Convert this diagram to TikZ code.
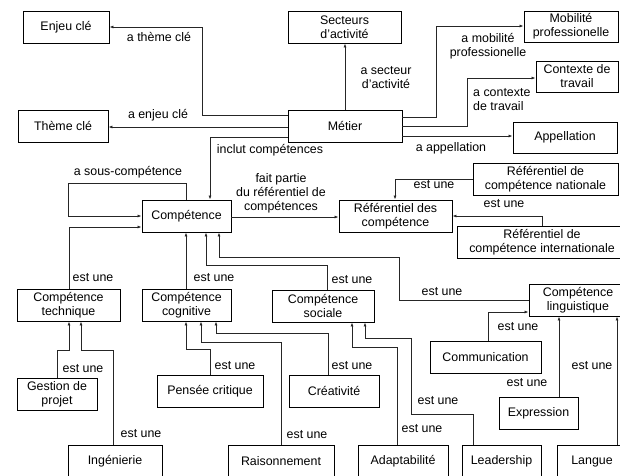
\documentclass[tikz,border=0pt]{standalone}
\usepackage{fontspec}
\setmainfont{Liberation Sans}
\usetikzlibrary{arrows.meta}
% box with corners (x1,y1) and (x2,y2), y measured downwards
\newcommand\mkbox[6]{\node[box,minimum width={#4pt-#2pt},minimum height={#5pt-#3pt}] (#1) at ({(#2+#4)/2},{(#3+#5)/2}) {#6};}
\begin{document}
\begin{tikzpicture}[x=1pt,y=-1pt,
  box/.style={draw=black,line width=0.9pt,inner sep=0pt,align=center,font=\fontsize{12.4}{14}\selectfont},
  lbl/.style={inner sep=0pt,align=center,font=\fontsize{12.4}{14}\selectfont},
  arr/.style={draw=black!85,line width=0.8pt,-{Latex[length=4pt,width=3pt]}}]
\useasboundingbox (0,0) rectangle (620,475);
\fill[white] (0,0) rectangle (620,475);
\clip (0,0) rectangle (620,475);

% concepts
\mkbox{enjeu}{23}{11}{109}{43}{Enjeu clé}
\mkbox{secteurs}{288}{11}{401}{43}{Secteurs\\d’activité}
\mkbox{mobilite}{524}{11}{618}{42}{Mobilité\\professionelle}
\mkbox{contexte}{536}{61}{618}{92}{Contexte de\\travail}
\mkbox{theme}{18}{110}{108}{142}{Thème clé}
\mkbox{metier}{288}{110}{402}{142}{Métier}
\mkbox{appellation}{513}{122}{617}{153}{Appellation}
\mkbox{nationale}{473}{163}{618}{195}{Référentiel de\\compétence nationale}
\mkbox{competence}{142}{200}{231}{232}{Compétence}
\mkbox{referentiel}{339}{200}{452}{232}{Référentiel des\\compétence}
\mkbox{internationale}{457}{226}{627}{258}{Référentiel de\\compétence internationale}
\mkbox{technique}{17}{289}{120}{321}{Compétence\\technique}
\mkbox{cognitive}{142}{289}{231}{321}{Compétence\\cognitive}
\mkbox{sociale}{272}{290}{374}{322}{Compétence\\sociale}
\mkbox{linguistique}{529}{284}{627}{316}{Compétence\\linguistique}
\mkbox{communication}{430}{341}{541}{373}{Communication}
\mkbox{gestion}{17}{378}{97}{410}{Gestion de\\projet}
\mkbox{pensee}{157}{375}{263}{407}{Pensée critique}
\mkbox{creativite}{289}{375}{379}{407}{Créativité}
\mkbox{expression}{499}{397}{578}{429}{Expression}
\mkbox{ingenierie}{68}{445}{162}{478}{Ingénierie}
\mkbox{raisonnement}{228}{445}{334}{478}{Raisonnement}
\mkbox{adaptabilite}{358}{445}{448}{478}{Adaptabilité}
\mkbox{leadership}{462}{445}{541}{478}{Leadership}
\mkbox{langue}{557}{445}{627}{478}{Langue}

% relations of Métier
\draw[arr] (metier.west |- 0,115) -| (202,27) -- (enjeu.east |- 0,27);
\draw[arr] (metier.west |- 0,127) -- (theme.east |- 0,127);
\draw[arr] (metier.north -| 345,0) -- (secteurs.south -| 345,0);
\draw[arr] (metier.east |- 0,117) -| (436,26) -- (mobilite.west |- 0,26);
\draw[arr] (metier.east |- 0,126) -| (467,78) -- (contexte.west |- 0,78);
\draw[arr] (metier.east |- 0,136) -- (appellation.west |- 0,136);
\draw[arr] (metier.west |- 0,137) -| (competence.north -| 210,0);

% relations of Compétence
\draw[arr] (competence.east |- 0,217) -- (referentiel.west |- 0,217);
\draw[arr] (competence.north -| 186,0) |- (68,183) |- (competence.west |- 0,216);
\draw[arr] (technique.north -| 69,0) |- (competence.west |- 0,227);
\draw[arr] (cognitive.north -| 186,0) -- (competence.south -| 186,0);
\draw[arr] (sociale.north -| 327,0) |- (206,265) -- (competence.south -| 206,0);
\draw[arr] (linguistique.west |- 0,300) -| (399,257) -| (competence.south -| 219,0);

% kinds of référentiel
\draw[arr] (nationale.west |- 0,179) -| (referentiel.north -| 395,0);
\draw[arr] (internationale.north -| 542,0) |- (referentiel.east |- 0,216);

% specialisations
\draw[arr] (gestion.north -| 57,0) |- (69,350) -- (technique.south -| 69,0);
\draw[arr] (ingenierie.north -| 113,0) |- (81,350) -- (technique.south -| 81,0);
\draw[arr] (pensee.north -| 210,0) |- (186,349) -- (cognitive.south -| 186,0);
\draw[arr] (raisonnement.north -| 281,0) |- (201,342) -- (cognitive.south -| 201,0);
\draw[arr] (creativite.north -| 328,0) |- (216,333) -- (cognitive.south -| 216,0);
\draw[arr] (adaptabilite.north -| 397,0) |- (352,347) -- (sociale.south -| 352,0);
\draw[arr] (leadership.north -| 473,0) |- (411,414) |- (365,338) -- (sociale.south -| 365,0);
\draw[arr] (communication.north -| 488,0) |- (linguistique.west |- 0,312);
\draw[arr] (expression.north -| 559,0) -- (linguistique.south -| 559,0);
\draw[arr] (langue.north -| 617,0) -- (linguistique.south -| 617,0);

% relation labels
\node[lbl] (l-theme) at (159,37) {a thème clé};
\node[lbl] (l-enjeu) at (158,115) {a enjeu clé};
\node[lbl] (l-secteur) at (386,78) {a secteur\\d’activité};
\node[lbl] (l-mobilite) at (488,46) {a mobilité\\professionelle};
\node[lbl,align=left,anchor=west] (l-contexte) at (473,100) {a contexte\\de travail};
\node[lbl] (l-appellation) at (451,148) {a appellation};
\node[lbl] (l-inclut) at (270,150) {inclut compétences};
\node[lbl] (l-partie) at (281,193) {fait partie\\du référentiel de\\compétences};
\node[lbl] (l-sous) at (128,172) {a sous-compétence};
\node[lbl] (e1) at (93,278) {est une};
\node[lbl] (e2) at (214,278) {est une};
\node[lbl] (e3) at (352,280) {est une};
\node[lbl] (e4) at (442,292) {est une};
\node[lbl] (e5) at (434,185) {est une};
\node[lbl] (e6) at (504,204) {est une};
\node[lbl] (e7) at (83,369) {est une};
\node[lbl] (e8) at (141,434) {est une};
\node[lbl] (e9) at (235,366) {est une};
\node[lbl] (e10) at (307,435) {est une};
\node[lbl] (e11) at (352,366) {est une};
\node[lbl] (e12) at (422,429) {est une};
\node[lbl] (e13) at (438,401) {est une};
\node[lbl] (e14) at (518,327) {est une};
\node[lbl] (e15) at (527,383) {est une};
\node[lbl] (e16) at (592,366) {est une};
\end{tikzpicture}
\end{document}
